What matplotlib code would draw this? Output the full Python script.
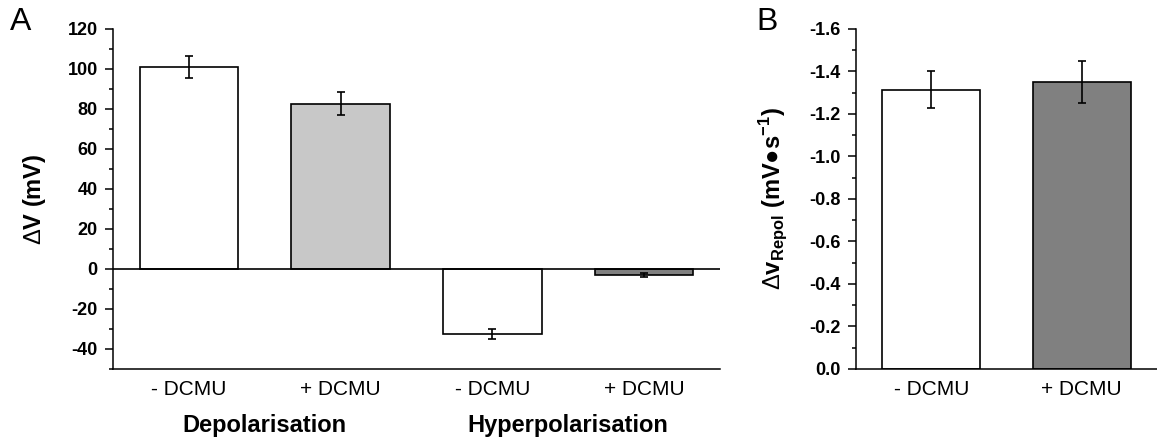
import matplotlib
matplotlib.use("Agg")
import matplotlib.pyplot as plt
import matplotlib.transforms as mtransforms
from matplotlib.ticker import MultipleLocator, FormatStrFormatter
import numpy as np

plt.rcParams['font.family'] = ['Liberation Sans', 'DejaVu Sans']
plt.rcParams['axes.unicode_minus'] = False
plt.rcParams['mathtext.fontset'] = 'custom'
plt.rcParams['mathtext.rm'] = 'Liberation Sans'
plt.rcParams['mathtext.bf'] = 'Liberation Sans:bold'

# panel A data
conditions = ['- DCMU', '+ DCMU', '- DCMU', '+ DCMU']
groups = ['Depolarisation', 'Hyperpolarisation']
dv_mean = [101.0, 82.7, -32.4, -3.0]
dv_err = [5.5, 5.6, 2.5, 1.0]
dv_colors = ['white', '#c8c8c8', 'white', '#808080']

# panel B data
repol_conditions = ['- DCMU', '+ DCMU']
repol_mean = [-1.315, -1.35]
repol_err = [0.087, 0.10]
repol_colors = ['white', '#808080']

fig = plt.figure(figsize=(11.57, 4.41), dpi=100)
axA = fig.add_axes([0.0977, 0.1633, 0.5246, 0.7710])
axB = fig.add_axes([0.7398, 0.1633, 0.2602, 0.7710])

bar_w = 0.65
err_kw = dict(ecolor='black', elinewidth=1.2, capsize=3, capthick=1.2)


def style_axis(ax):
    for side in ('top', 'right'):
        ax.spines[side].set_visible(False)
    for side in ('left', 'bottom'):
        ax.spines[side].set_linewidth(1.1)
    ax.tick_params(axis='y', which='major', length=6, width=1.1, direction='out',
                   labelsize=13, pad=5)
    ax.tick_params(axis='y', which='minor', length=3, width=1.1, direction='out')
    ax.tick_params(axis='x', length=0, labelsize=15, pad=8)
    for lab in ax.get_yticklabels():
        lab.set_fontweight('bold')


# --- A ---
xA = np.arange(len(dv_mean))
axA.bar(xA, dv_mean, width=bar_w, color=dv_colors, edgecolor='black',
        linewidth=1.2, yerr=dv_err, error_kw=err_kw, zorder=2)
axA.axhline(0, color='black', linewidth=1.2, zorder=3)
axA.set_xlim(-0.5, 3.5)
axA.set_ylim(-50, 120)
axA.yaxis.set_major_locator(MultipleLocator(20))
axA.yaxis.set_minor_locator(MultipleLocator(10))
axA.set_xticks(xA)
axA.set_xticklabels(conditions)
style_axis(axA)
axA.set_ylabel(r'$\Delta$V (mV)', fontsize=17, fontweight='bold', labelpad=14)

trans = mtransforms.blended_transform_factory(axA.transData, fig.transFigure)
for i, g in enumerate(groups):
    axA.text(xA[2 * i:2 * i + 2].mean(), 0.036, g, transform=trans, ha='center',
             va='center', fontsize=17, fontweight='bold')

fig.text(0.018, 0.95, 'A', fontsize=23, ha='center', va='center')

# --- B ---
xB = np.arange(len(repol_mean))
axB.bar(xB, repol_mean, width=bar_w, color=repol_colors, edgecolor='black',
        linewidth=1.2, yerr=repol_err, error_kw=err_kw, zorder=2)
axB.set_xlim(-0.5, 1.5)
axB.set_ylim(0, -1.6)
axB.yaxis.set_major_locator(MultipleLocator(0.2))
axB.yaxis.set_minor_locator(MultipleLocator(0.1))
axB.yaxis.set_major_formatter(FormatStrFormatter('%.1f'))
axB.set_xticks(xB)
axB.set_xticklabels(repol_conditions)
style_axis(axB)
axB.set_ylabel('$\\Delta$v$_{\\mathbf{Repol}}$ (mV\u25cfs$^{\\mathbf{-1}}$)',
               fontsize=17, fontweight='bold', labelpad=14)

fig.text(0.663, 0.95, 'B', fontsize=23, ha='center', va='center')

fig.savefig('out.png', dpi=100, facecolor='white')
